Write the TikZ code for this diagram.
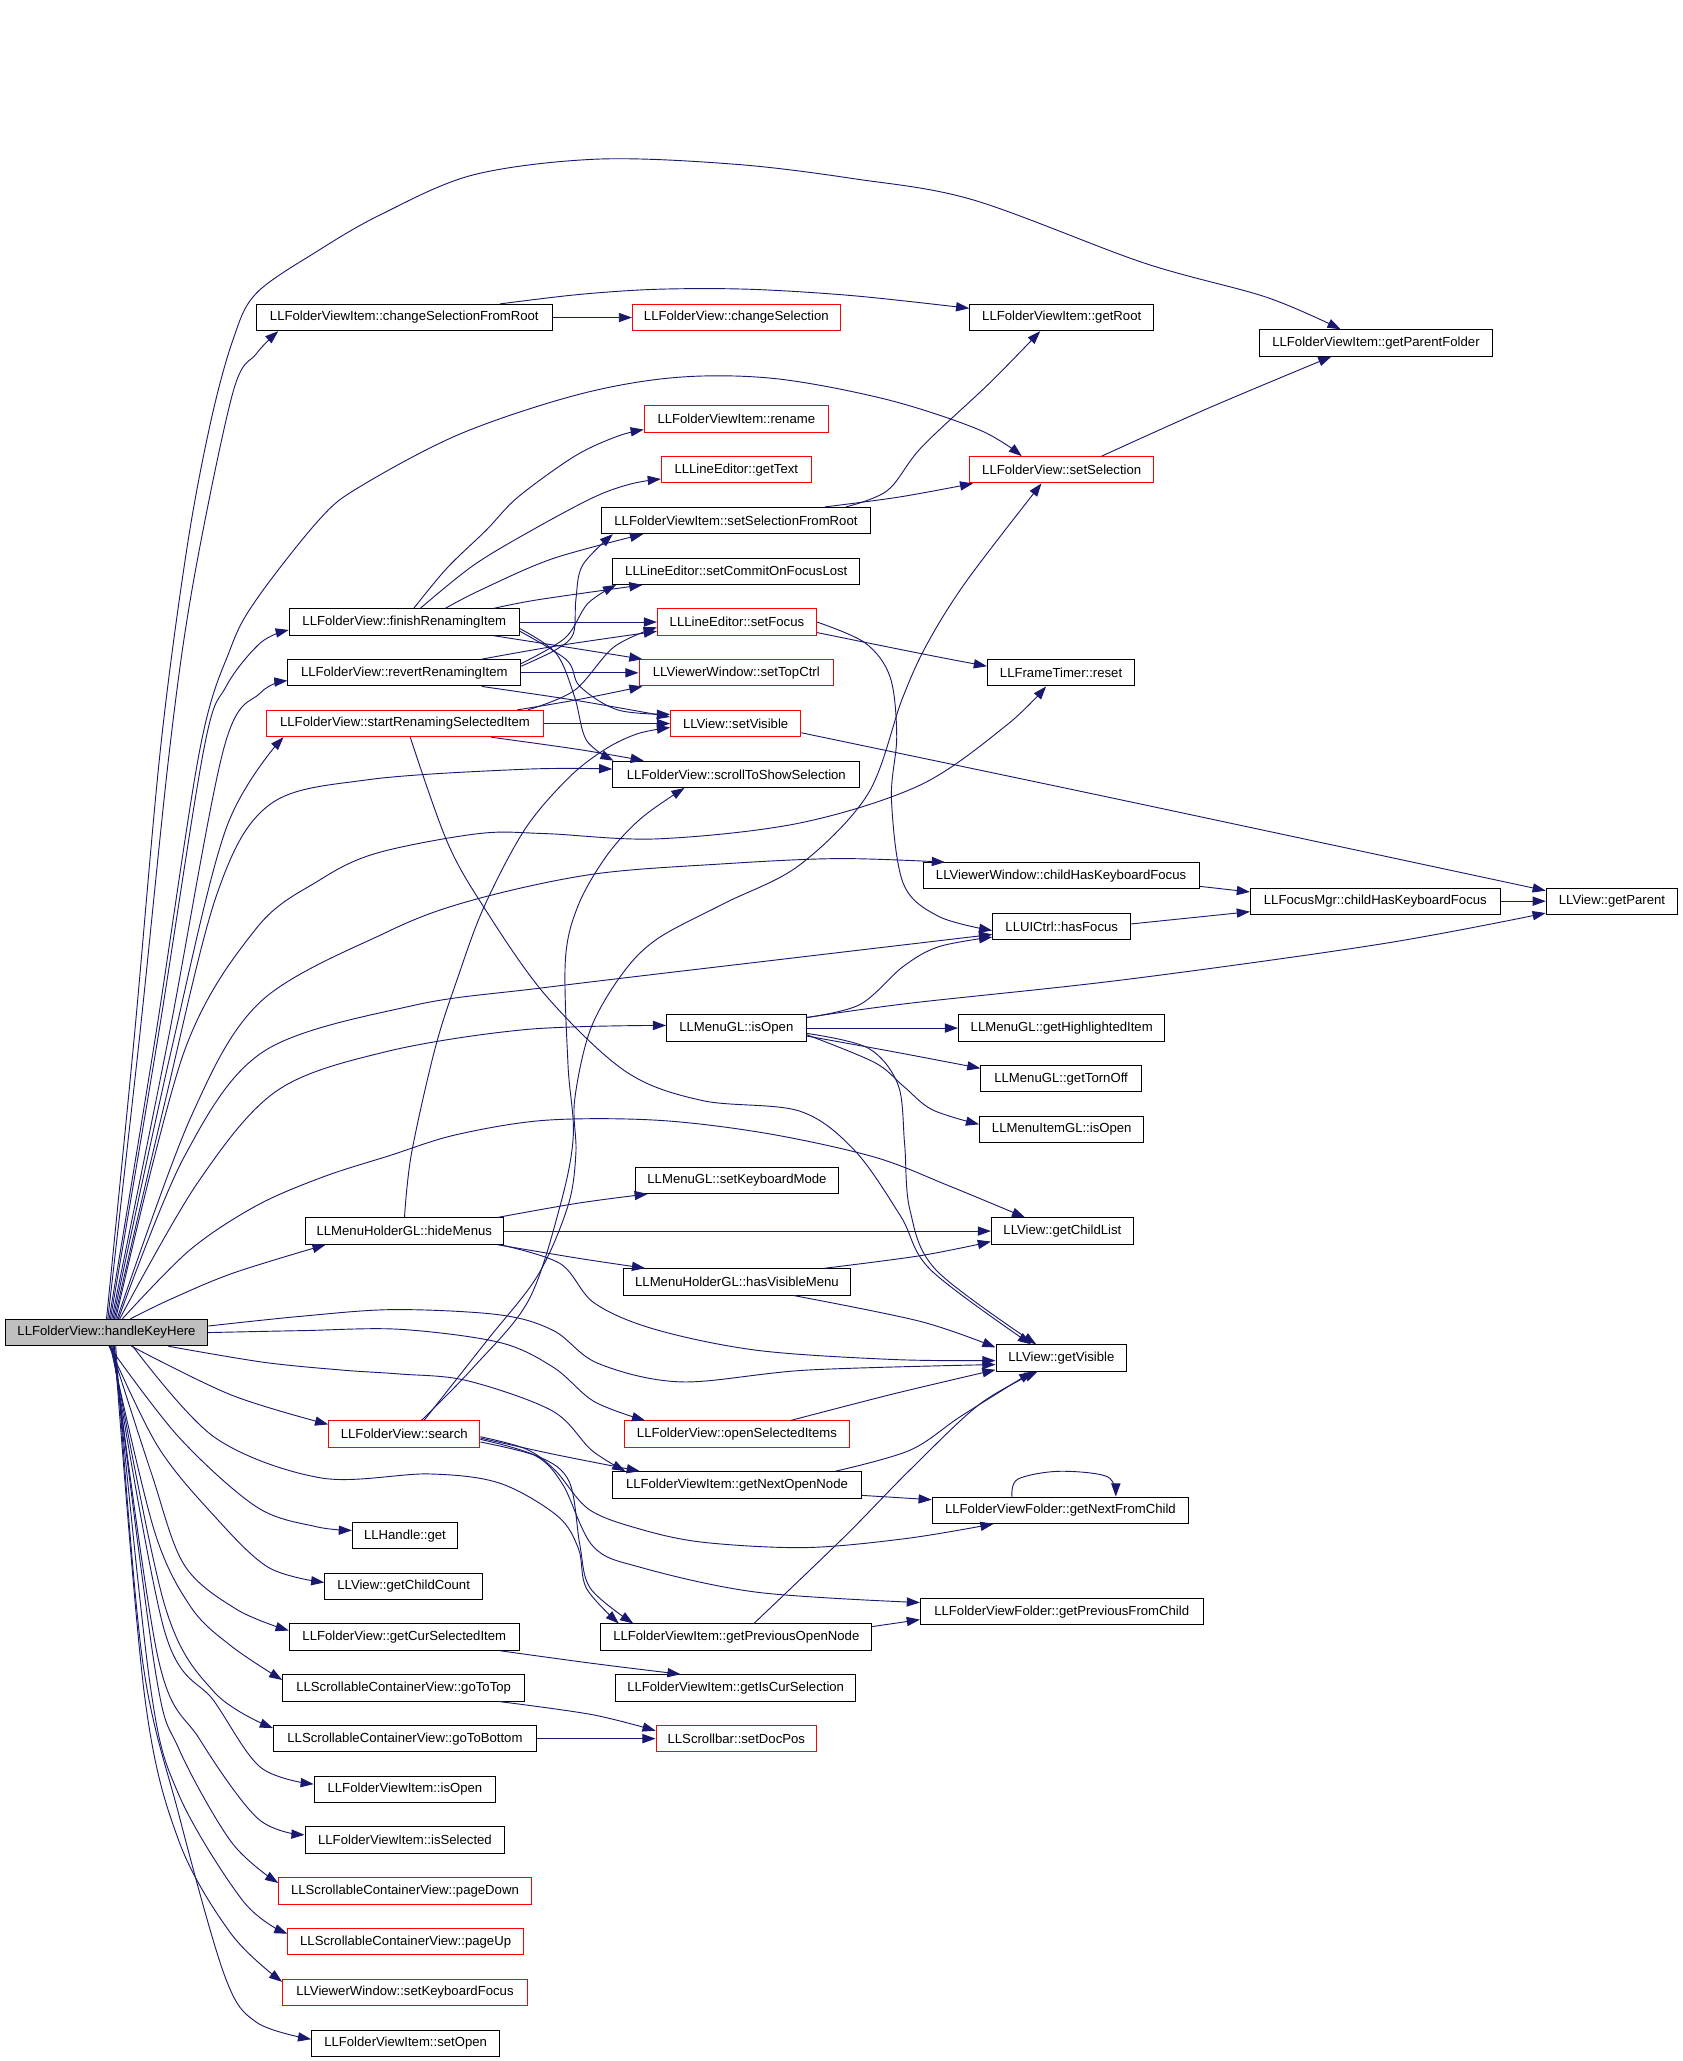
\documentclass[tikz,border=0pt]{standalone}
\usepackage{fontspec}
\setmainfont{Liberation Sans}
\usetikzlibrary{arrows.meta}
\definecolor{navy}{HTML}{191970}
\definecolor{hgray}{HTML}{BFBFBF}
\tikzset{
  box/.style={draw=black, line width=0.75pt, rectangle, minimum height=20, inner sep=0pt, fill=white, font=\fontsize{10}{12}\selectfont},
  redbox/.style={box, draw=red},
  e/.style={draw=navy, line width=0.7pt, -{Triangle[length=10pt,width=7pt]}},
  sm/.style={smooth, tension=0.55}
}
\begin{document}
\begin{tikzpicture}[x=1pt,y=-1pt]
\fill[white] (0,0) rectangle (1280,1567.5);
\useasboundingbox (0,0) rectangle (1280,1567.5);
% nodes
\node[box, fill=hgray, minimum width=154] (H) at (81,1013.5) {LLFolderView::handleKeyHere};
\node[box, minimum width=225] (CSFR) at (307.5,241.5) {LLFolderViewItem::changeSelectionFromRoot};
\node[redbox, minimum width=158] (CS) at (560,241.5) {LLFolderView::changeSelection};
\node[box, minimum width=140] (GR) at (807.5,241.5) {LLFolderViewItem::getRoot};
\node[box, minimum width=177] (GPF) at (1046.5,260.8) {LLFolderViewItem::getParentFolder};
\node[redbox, minimum width=140] (RN) at (560,318.7) {LLFolderViewItem::rename};
\node[redbox, minimum width=114] (GT) at (560,357.3) {LLLineEditor::getText};
\node[redbox, minimum width=140] (SS) at (807.5,357.3) {LLFolderView::setSelection};
\node[box, minimum width=204.5] (SSFR) at (559.75,395.9) {LLFolderViewItem::setSelectionFromRoot};
\node[box, minimum width=188] (SCFL) at (560,434.5) {LLLineEditor::setCommitOnFocusLost};
\node[box, minimum width=175] (FRI) at (307.5,473.1) {LLFolderView::finishRenamingItem};
\node[redbox, minimum width=121] (SF) at (560.5,473.1) {LLLineEditor::setFocus};
\node[box, minimum width=177] (RRI) at (307.5,511.7) {LLFolderView::revertRenamingItem};
\node[redbox, minimum width=148] (STC) at (560,511.7) {LLViewerWindow::setTopCtrl};
\node[box, minimum width=112] (RST) at (807,511.7) {LLFrameTimer::reset};
\node[redbox, minimum width=210] (SRSI) at (308,550.3) {LLFolderView::startRenamingSelectedItem};
\node[redbox, minimum width=99] (SV) at (559.5,550.3) {LLView::setVisible};
\node[box, minimum width=188] (STS) at (560,588.9) {LLFolderView::scrollToShowSelection};
\node[box, minimum width=210] (VW) at (807,666.1) {LLViewerWindow::childHasKeyboardFocus};
\node[box, minimum width=190] (FM) at (1046,685.4) {LLFocusMgr::childHasKeyboardFocus};
\node[box, minimum width=100] (GP) at (1226,685.4) {LLView::getParent};
\node[box, minimum width=105] (HF) at (807.5,704.7) {LLUICtrl::hasFocus};
\node[box, minimum width=106] (MIO) at (560,781.9) {LLMenuGL::isOpen};
\node[box, minimum width=157] (GHI) at (807.5,781.9) {LLMenuGL::getHighlightedItem};
\node[box, minimum width=122] (GTO) at (807,820.5) {LLMenuGL::getTornOff};
\node[box, minimum width=125] (MIIO) at (807.5,859.1) {LLMenuItemGL::isOpen};
\node[box, minimum width=155] (SKM) at (560.5,897.7) {LLMenuGL::setKeyboardMode};
\node[box, minimum width=151] (HM) at (307.5,936.3) {LLMenuHolderGL::hideMenus};
\node[box, minimum width=108] (GCL) at (808,936.3) {LLView::getChildList};
\node[box, minimum width=173] (HVM) at (560.5,974.9) {LLMenuHolderGL::hasVisibleMenu};
\node[box, minimum width=99.5] (GV) at (807.25,1032.8) {LLView::getVisible};
\node[redbox, minimum width=115] (S) at (307.5,1090.7) {LLFolderView::search};
\node[redbox, minimum width=171] (OSI) at (560.5,1090.7) {LLFolderView::openSelectedItems};
\node[box, minimum width=189] (GNON) at (560.5,1129.3) {LLFolderViewItem::getNextOpenNode};
\node[box, minimum width=195] (GNFC) at (806.5,1148.6) {LLFolderViewFolder::getNextFromChild};
\node[box, minimum width=80] (HG) at (308,1167.9) {LLHandle::get};
\node[box, minimum width=120] (GCC) at (307,1206.5) {LLView::getChildCount};
\node[box, minimum width=215] (GPFC) at (807.5,1225.8) {LLFolderViewFolder::getPreviousFromChild};
\node[box, minimum width=175] (GCSI) at (307.5,1245.1) {LLFolderView::getCurSelectedItem};
\node[box, minimum width=206] (GPON) at (560,1245.1) {LLFolderViewItem::getPreviousOpenNode};
\node[box, minimum width=184] (GTT) at (307,1283.7) {LLScrollableContainerView::goToTop};
\node[box, minimum width=183] (GICS) at (559.5,1283.7) {LLFolderViewItem::getIsCurSelection};
\node[box, minimum width=200] (GTB) at (308,1322.3) {LLScrollableContainerView::goToBottom};
\node[redbox, minimum width=122] (SDP) at (560,1322.3) {LLScrollbar::setDocPos};
\node[box, minimum width=138] (FIO) at (308,1360.9) {LLFolderViewItem::isOpen};
\node[box, minimum width=152] (ISEL) at (308,1399.5) {LLFolderViewItem::isSelected};
\node[redbox, minimum width=192] (PD) at (308,1438.1) {LLScrollableContainerView::pageDown};
\node[redbox, minimum width=179] (PU) at (308.5,1476.7) {LLScrollableContainerView::pageUp};
\node[redbox, minimum width=186] (SKF) at (308,1515.3) {LLViewerWindow::setKeyboardFocus};
\node[box, minimum width=143] (SO) at (308.5,1553.9) {LLFolderViewItem::setOpen};

% edges from handleKeyHere (upward fan)
\draw[e] plot[sm] coordinates {([xshift=1]H.north) (106,790) (129,570) (147,443) (177,299) (195,269) ([xshift=17]CSFR.south west)};
\draw[e] plot[sm] coordinates {(H.north) (102,790) (122,570) (142,418) (160,322) (177,259) (195,223) (243,190) (290,163) (360,133) (455,121) (560,125) (650,136) (740,152) (870,200) (963,226) ([xshift=62]GPF.north west)};
\draw[e] plot[sm] coordinates {([xshift=2]H.north) (118,790) (152,570) (175,494) (195,456) (243,395) (274,370) (350,330) (440,300) (515,287) (590,288) (675,304) (745,327) ([xshift=40]SS.north west)};
\draw[e] plot[sm] coordinates {([xshift=3]H.north) (120,790) (155,570) (172,522) (198,489) ([yshift=-6]FRI.west)};
\draw[e] plot[sm] coordinates {([xshift=4]H.north) (128,790) (170,570) (198,527) ([yshift=-6]RRI.west)};
\draw[e] plot[sm] coordinates {([xshift=5]H.north) (130,800) (172,630) ([xshift=13]SRSI.south west)};
\draw[e] plot[sm] coordinates {([xshift=6]H.north) (125,840) (165,680) (205,612) (280,593) (400,585) ([yshift=4]STS.west)};
\draw[e] plot[sm] coordinates {([xshift=7]H.north) (140,800) (195,706) (242,670) (286,649) (364,634) (415,634) (500,638) (608,626) (700,597) (765,552) ([xshift=45]RST.south west)};
\draw[e] plot[sm] coordinates {([xshift=8]H.north) (145,850) (198,762) (294,709) (358,685) (450,665) (550,657) (638,653) ([xshift=17]VW.north west)};
\draw[e] plot[sm] coordinates {([xshift=9]H.north) (140,880) (200,800) (313,765) (415,751) (608,728) ([yshift=-6]HF.west)};
\draw[e] plot[sm] coordinates {([xshift=10]H.north) (150,900) (210,830) (293,800) (400,783) ([yshift=2]MIO.west)};
\draw[e] plot[sm] coordinates {([xshift=12]H.north) (144,951) (195,917) (246,895) (296,879) (347,863) (415,852) (500,852) (583,862) (665,880) (722,902) ([xshift=26]GCL.north west)};
\draw[e] plot[sm] coordinates {([xshift=18]H.north) (130,988) (178,968) ([xshift=16]HM.south west)};
% edges from handleKeyHere (right side)
\draw[e] plot[sm] coordinates {([yshift=5]H.east) (230,1001) (300,996) (380,1000) (421,1012) (455,1037) (518,1051) (614,1042) ([yshift=-5]GV.west)};
\draw[e] plot[sm] coordinates {(H.east) (230,1012) (304,1011) (380,1021) (421,1040) (452,1066) ([xshift=16]OSI.north west)};
\draw[e] plot[sm] coordinates {([xshift=47]H.south) (200,1036) (260,1042) (304,1045) (355,1050) (420,1073) (450,1103) ([xshift=10]GNON.north west)};
\draw[e] plot[sm] coordinates {([xshift=20]H.south) (163,1093) (244,1124) (326,1121) (380,1128) (424,1153) (440,1178) (446,1208) ([xshift=14]GPON.north west)};
\draw[e] plot[sm] coordinates {([xshift=19]H.south) (176,1061) ([yshift=-3]S.north west)};
% edges from handleKeyHere (downward fan)
\draw[e] plot[sm] coordinates {([xshift=2]H.south) (136,1093) (195,1146) (240,1161) ([yshift=4]HG.west)};
\draw[e] plot[sm] coordinates {([xshift=2]H.south) (120,1100) (163,1153) (204,1192) ([yshift=3]GCC.west)};
\draw[e] plot[sm] coordinates {([xshift=3]H.south) (115,1120) (140,1190) (180,1224) ([yshift=5]GCSI.west)};
\draw[e] plot[sm] coordinates {([xshift=3]H.south) (117,1163) (145,1222) (176,1252) ([yshift=6]GTT.west)};
\draw[e] plot[sm] coordinates {([xshift=4]H.south) (125,1220) (163,1287) ([yshift=8]GTB.west)};
\draw[e] plot[sm] coordinates {([xshift=4]H.south) (125,1240) (163,1294) (198,1344) ([yshift=4]FIO.west)};
\draw[e] plot[sm] coordinates {([xshift=5]H.south) (120,1260) (152,1323) (196,1383) ([yshift=4]ISEL.west)};
\draw[e] plot[sm] coordinates {([xshift=5]H.south) (118,1270) (136,1330) (176,1401) ([yshift=6]PD.west)};
\draw[e] plot[sm] coordinates {([xshift=6]H.south) (114,1280) (136,1365) (185,1446) ([yshift=6]PU.west)};
\draw[e] plot[sm] coordinates {([xshift=6]H.south) (110,1290) (136,1400) (176,1471) ([yshift=8]SKF.west)};
\draw[e] plot[sm] coordinates {([xshift=7]H.south) (108,1260) (136,1380) (171,1503) (195,1538) ([yshift=3]SO.west)};
% edges from search
\draw[e] plot[sm] coordinates {([xshift=13]S.north) (360,1040) (402,989) (426,917) (436,864) (432,810) (430,730) (440,688) (462,650) (488,622) ([xshift=55]STS.south west)};
\draw[e] plot[sm] coordinates {([xshift=15]S.north) (370,1020) (409,970) (432,917) (438,877) (437,837) (449,783) (473,741) (500,714) (551,687) (608,658) (660,604) (686,532) (705,490) (735,442) ([xshift=55]SS.south west)};
\draw[e] plot[sm] coordinates {([yshift=-3]S.east) (421,1106) ([xshift=21]GNON.north west)};
\draw[e] plot[sm] coordinates {([yshift=-2]S.east) (400,1102) (422,1118) (448,1148) (487,1163) (535,1173) (613,1177) (690,1170) ([xshift=47]GNFC.south west)};
\draw[e] plot[sm] coordinates {([yshift=-4]S.east) (407,1107) (428,1129) (451,1176) (487,1192) (576,1211) ([yshift=7]GPFC.west)};
\draw[e] plot[sm] coordinates {([yshift=-6]S.east) (410,1108) (433,1127) (441,1175) (449,1208) ([xshift=25]GPON.north west)};
% upper part
\draw[e] (CSFR.east) -- (CS.west);
\draw[e] plot[sm] coordinates {([xshift=-40]CSFR.north east) (440,224) (500,220) (570,220) (650,225) ([yshift=7]GR.west)};
\draw[e] plot[sm] coordinates {([xshift=-19]SSFR.north east) (675,373) (701,340) (753,291) ([xshift=54]GR.south west)};
\draw[e] plot[sm] coordinates {([xshift=-35]SSFR.north east) (684,378) ([xshift=3]SS.south west)};
\draw[e] plot[sm] coordinates {([xshift=-40]SS.north east) (920,310) ([xshift=55]GPF.south west)};
\draw[e] plot[sm] coordinates {([xshift=95]FRI.north west) (340,432) (370,403) (394,378) (437,347) (469,332) ([yshift=-8]RN.west)};
\draw[e] plot[sm] coordinates {([xshift=100]FRI.north west) (360,430) (405,403) (452,378) (480,368) ([yshift=-7]GT.west)};
\draw[e] plot[sm] coordinates {([xshift=119]FRI.north west) (365,449) (420,425) ([xshift=32]SSFR.south west)};
\draw[e] plot[sm] coordinates {([yshift=5]RRI.east) (423,494) (436,482) (438,456) (443,430) ([xshift=9]SSFR.south west)};
\draw[e] plot[sm] coordinates {([xshift=-20]FRI.north east) (410,456) ([xshift=23]SCFL.south west)};
\draw[e] plot[sm] coordinates {([yshift=7]RRI.east) (430,485) (447,459) ([xshift=3]SCFL.south west)};
\draw[e] (FRI.east) -- (SF.west);
\draw[e] plot[sm] coordinates {([xshift=-30]RRI.north east) (425,491) ([yshift=-7]SF.west)};
\draw[e] plot[sm] coordinates {([xshift=-12]SRSI.north east) (437,525) (467,492) ([yshift=-4]SF.west)};
\draw[e] plot[sm] coordinates {([xshift=-20]FRI.south east) (430,492) ([xshift=3]STC.north west)};
\draw[e] (RRI.east) -- (STC.west);
\draw[e] plot[sm] coordinates {([xshift=-20]SRSI.north east) (440,532) ([xshift=3]STC.south west)};
\draw[e] plot[sm] coordinates {([yshift=-7]FRI.east) (431,502) (441,522) (470,540) ([yshift=7]SV.west)};
\draw[e] plot[sm] coordinates {([xshift=-30]RRI.south east) (440,533) ([yshift=5]SV.west)};
\draw[e] (SRSI.east) -- (SV.west);
\draw[e] plot[sm] coordinates {([xshift=76]HM.north west) (313,877) (331,797) (348,744) (368,690) (399,631) (432,592) (460,570) (485,558) ([yshift=-3]SV.west)};
\draw[e] plot[sm] coordinates {([yshift=-5]FRI.east) (423,497) (437,530) (446,563) ([xshift=1]STS.north west)};
\draw[e] plot[sm] coordinates {([xshift=-40]SRSI.south east) (440,570) ([xshift=24]STS.north west)};
\draw[e] plot[sm] coordinates {([xshift=4]SRSI.south) (340,640) (368,690) (415,757) (476,815) (534,837) (608,845) (650,875) (685,925) (708,966) ([xshift=27]GV.north west)};
\draw[e] plot[sm] coordinates {([yshift=-4]MIO.east) (660,797) (683,825) (688,870) (692,920) (712,966) ([xshift=31]GV.north west)};
\draw[e] plot[sm] coordinates {([yshift=8]MIO.east) (692,763) (856,745) (1050,718) ([yshift=-9]GP.west)};
\draw[e] plot[sm] coordinates {([yshift=8]MIO.east) (654,764) (687,735) (714,720) ([yshift=-8]HF.west)};
\draw[e] (MIO.east) -- (GHI.west);
\draw[e] plot[sm] coordinates {([yshift=-6]MIO.east) (680,800) ([yshift=8]GTO.west)};
\draw[e] plot[sm] coordinates {([yshift=-5]MIO.east) (665,808) (687,826) (709,844) ([yshift=4]MIIO.west)};
\draw[e] plot[sm] coordinates {([yshift=-8]VW.east) ([yshift=7]FM.west)};
\draw[e] plot[sm] coordinates {([yshift=2]HF.east) ([yshift=-8]FM.west)};
\draw[e] (FM.east) -- (GP.west);
\draw[e] plot[sm] coordinates {([yshift=-7]SV.east) (851,608) ([yshift=8]GP.west)};
\draw[e] plot[sm] coordinates {(SF.east) (658,489) (677,515) (682,560) (678,608) (687,672) (714,697) ([yshift=-3]HF.west)};
\draw[e] plot[sm] coordinates {([yshift=-8]SF.east) (700,497) ([yshift=5]RST.west)};
% menu holder
\draw[e] plot[sm] coordinates {([xshift=-5]HM.north east) (440,915) ([xshift=10]SKM.south west)};
\draw[e] (HM.east) -- (GCL.west);
\draw[e] plot[sm] coordinates {([xshift=-5]HM.south east) (440,957) ([xshift=17]HVM.north west)};
\draw[e] plot[sm] coordinates {([xshift=-20]HVM.north east) (700,955) ([yshift=-8]GCL.west)};
\draw[e] plot[sm] coordinates {([xshift=-44]HVM.south east) (700,1005) ([yshift=8]GV.west)};
\draw[e] plot[sm] coordinates {([xshift=-3]HM.south east) (426,961) (452,991) (498,1011) (576,1027) (680,1034) ([yshift=-2]GV.west)};
% lower right
\draw[e] plot[sm] coordinates {([xshift=-45]OSI.north east) (680,1060) ([yshift=-9]GV.west)};
\draw[e] plot[sm] coordinates {([xshift=-20]GNON.north east) (692,1103) (731,1077) ([xshift=28]GV.south west)};
\draw[e] plot[sm] coordinates {([xshift=-90]GPON.north east) (642,1169) (692,1118) (745,1068) ([xshift=32]GV.south west)};
\draw[e] plot[sm] coordinates {([yshift=-8]GNON.east) ([yshift=8]GNFC.west)};
\draw[e] plot[sm] coordinates {([xshift=61]GNFC.north west) (774,1125) (805,1119) (842,1123) ([xshift=140]GNFC.north west)};
\draw[e] plot[sm] coordinates {([yshift=8]GPON.east) ([yshift=-6]GPFC.west)};
\draw[e] plot[sm] coordinates {([xshift=-15]GCSI.south east) (450,1265) ([xshift=50]GICS.north west)};
\draw[e] plot[sm] coordinates {([xshift=-20]GTT.south east) (450,1304) ([yshift=6]SDP.west)};
\draw[e] (GTB.east) -- (SDP.west);
\end{tikzpicture}
\end{document}
